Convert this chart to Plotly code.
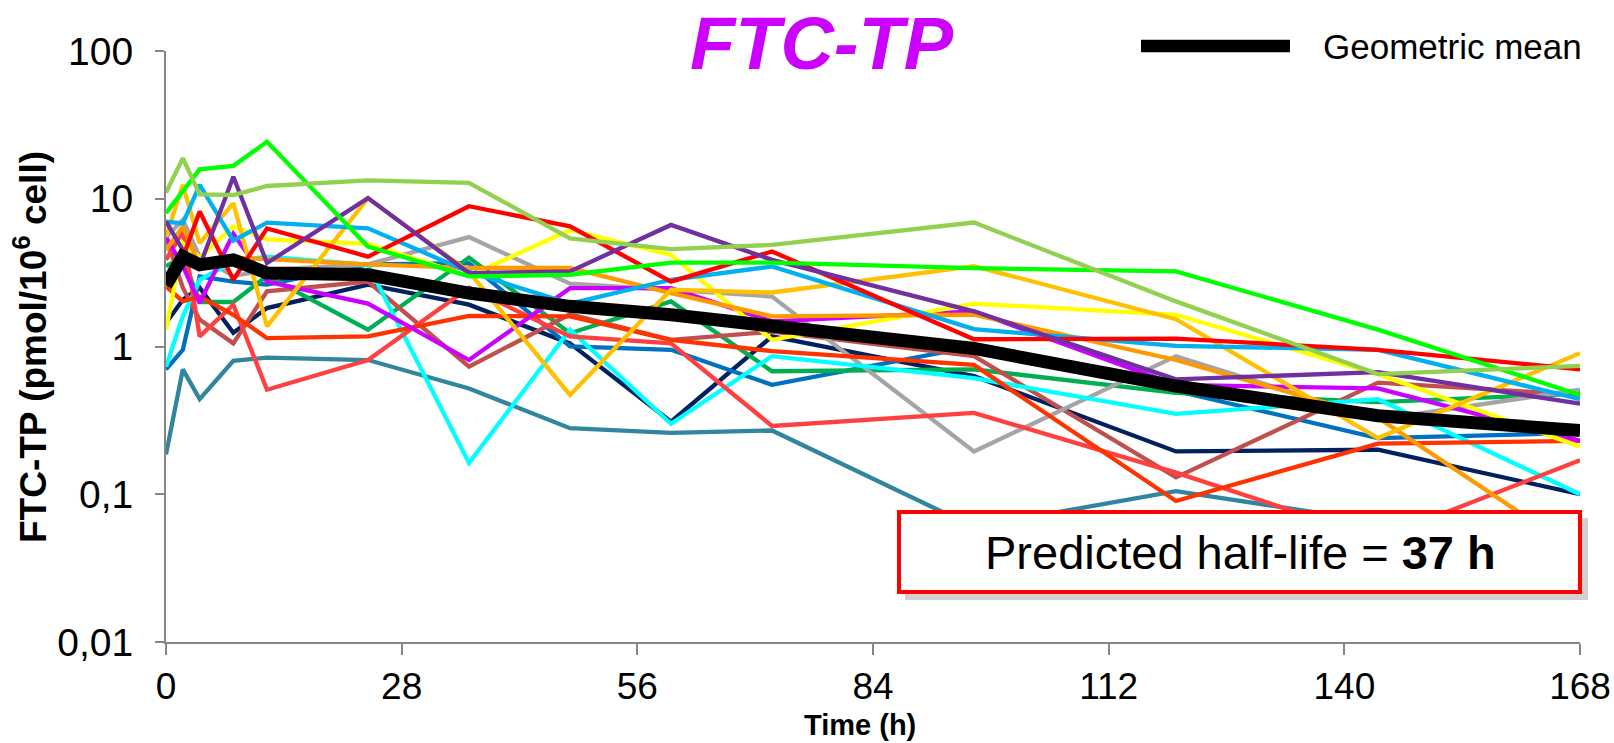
import plotly.graph_objects as go

# ---------------- data ----------------
time_h = [0, 2, 4, 8, 12, 24, 36, 48, 60, 72, 96, 120, 144, 168]

light_green = [11.0, 18.8, 10.7, 10.6, 12.2, 13.3, 12.8, 5.4, 4.56, 4.87, 6.9, 2.02, 0.65, 0.74]
lime = [8.0, 11.3, 15.8, 16.7, 24.3, 4.75, 2.98, 3.06, 3.7, 3.7, 3.39, 3.22, 1.3, 0.47]
purple = [7.0, 4.5, 3.5, 14.1, 3.67, 10.1, 3.14, 3.22, 6.65, 3.86, 1.73, 0.60, 0.67, 0.41]
gold = [5.5, 12.4, 5.0, 9.3, 1.37, 10.1, 3.2, 0.47, 2.42, 2.32, 3.5, 1.53, 0.24, 0.90]
orange = [4.5, 6.5, 3.5, 4.0, 3.9, 3.6, 3.4, 3.4, 2.3, 1.6, 1.64, 0.81, 0.33, 0.04]
red = [3.0, 4.0, 8.2, 2.83, 6.3, 4.06, 8.9, 6.5, 2.75, 4.4, 1.12, 1.13, 0.95, 0.70]
light_blue = [7.0, 6.8, 12.4, 5.2, 6.9, 6.3, 3.2, 1.95, 2.83, 3.48, 1.31, 1.01, 0.95, 0.44]
yellow = [1.3, 5.0, 4.0, 6.5, 5.3, 4.95, 3.0, 6.15, 4.17, 1.11, 1.95, 1.64, 0.65, 0.21]
gray = [5.5, 7.2, 4.06, 3.0, 3.3, 3.6, 5.5, 2.66, 2.42, 2.18, 0.195, 0.86, 0.32, 0.51]
violet = [5.5, 3.5, 1.97, 5.8, 2.75, 1.95, 0.81, 2.48, 2.48, 1.48, 1.73, 0.55, 0.52, 0.23]
cyan = [0.73, 1.6, 2.83, 3.76, 4.06, 3.57, 0.163, 1.3, 0.30, 0.86, 0.61, 0.35, 0.44, 0.10]
blue = [0.70, 0.95, 2.98, 2.75, 2.62, 3.6, 3.67, 1.0, 0.95, 0.55, 1.0, 0.5, 0.24, 0.26]
navy = [1.44, 2.07, 2.5, 1.24, 1.82, 2.62, 1.92, 1.05, 0.31, 1.17, 0.63, 0.195, 0.2, 0.10]
dark_green = [3.5, 4.0, 2.0, 2.0, 3.0, 1.3, 4.0, 1.23, 2.02, 0.68, 0.70, 0.485, 0.42, 0.48]
brown = [5.5, 2.5, 1.52, 1.05, 2.36, 2.75, 0.73, 1.65, 1.11, 1.26, 0.86, 0.13, 0.57, 0.47]
teal = [0.186, 0.70, 0.44, 0.80, 0.84, 0.81, 0.52, 0.28, 0.26, 0.27, 0.06, 0.105, 0.065, 0.05]
coral = [3.86, 6.0, 1.17, 1.92, 0.51, 0.81, 2.5, 1.17, 1.05, 0.29, 0.355, 0.14, 0.05, 0.17]
orange_red = [2.55, 2.02, 2.18, 1.64, 1.14, 1.17, 1.61, 1.6, 1.11, 0.93, 0.75, 0.09, 0.22, 0.23]
geo_mean = [2.6, 4.06, 3.57, 3.86, 3.14, 3.06, 2.3, 1.87, 1.64, 1.40, 0.97, 0.54, 0.34, 0.27]

subjects = [
    (teal, "#31859C"), (navy, "#002060"), (blue, "#0070C0"), (dark_green, "#00B050"),
    (brown, "#C0504D"), (gray, "#A5A5A5"), (cyan, "#00FFFF"), (coral, "#FF4040"),
    (orange_red, "#FF3300"), (violet, "#CC00FF"), (yellow, "#FFFF00"), (orange, "#FF9900"),
    (gold, "#FFC000"), (light_blue, "#00B0F0"), (red, "#FF0000"), (purple, "#7030A0"),
    (lime, "#00FF00"), (light_green, "#92D050"),
]

y_tick_vals = [0.01, 0.1, 1, 10, 100]
y_tick_text = ["0,01", "0,1", "1", "10", "100"]
x_tick_vals = [0, 28, 56, 84, 112, 140, 168]

# ---------------- layout geometry ----------------
W, H = 1614, 743
L, R, T, B = 166, 34, 51, 101
PW, PH = W - L - R, H - T - B


def px(x):
    return (x - L) / PW


def py(y):
    return (H - B - y) / PH


FONT = "Liberation Sans, Arial, sans-serif"

fig = go.Figure()
for vals, col in subjects:
    fig.add_trace(go.Scatter(x=time_h, y=vals, mode="lines",
                             line=dict(color=col, width=4.3), showlegend=False,
                             hoverinfo="skip"))
fig.add_trace(go.Scatter(x=time_h, y=geo_mean, mode="lines", name="Geometric mean",
                         line=dict(color="#000000", width=13), showlegend=False))

axis_col = "#868686"
fig.update_xaxes(range=[0, 168], tickvals=x_tick_vals, showline=True, linecolor=axis_col,
                 linewidth=2, ticks="outside", ticklen=11, tickwidth=2, tickcolor=axis_col,
                 showgrid=False, zeroline=False, automargin=False,
                 tickfont=dict(family=FONT, size=37, color="#000000"))
fig.update_yaxes(type="log", range=[-2, 2], tickvals=y_tick_vals, ticktext=y_tick_text,
                 showline=True, linecolor=axis_col, linewidth=2, ticks="outside",
                 ticklen=9, tickwidth=2, tickcolor=axis_col, showgrid=False,
                 zeroline=False, automargin=False, ticklabelstandoff=14,
                 tickfont=dict(family=FONT, size=39, color="#000000"))

shapes = [
    # box shadow
    dict(type="rect", xref="paper", yref="paper", x0=px(905), x1=px(1588),
         y0=py(600), y1=py(518), fillcolor="rgba(0,0,0,0.18)", line=dict(width=0),
         layer="above"),
    dict(type="rect", xref="paper", yref="paper", x0=px(899), x1=px(1580),
         y0=py(592), y1=py(512), fillcolor="#FFFFFF",
         line=dict(color="#FF0000", width=4), layer="above"),
    # legend sample
    dict(type="line", xref="paper", yref="paper", x0=px(1141), x1=px(1290),
         y0=py(46), y1=py(46), line=dict(color="#000000", width=12.5)),
]

annotations = [
    dict(text="<b><i>FTC-TP</i></b>", xref="paper", yref="paper", x=px(822), y=py(43),
         xanchor="center", yanchor="middle", showarrow=False,
         font=dict(family=FONT, size=74, color="#CC00FF")),
    dict(text="Geometric mean", xref="paper", yref="paper", x=px(1321), y=py(47),
         xanchor="left", yanchor="middle", showarrow=False,
         font=dict(family=FONT, size=35, color="#000000")),
    dict(text="Predicted half-life = <b>37 h</b>", xref="paper", yref="paper",
         x=px(1240), y=py(552), xanchor="center", yanchor="middle", showarrow=False,
         font=dict(family=FONT, size=47, color="#000000")),
    dict(text="<b>Time (h)</b>", xref="paper", yref="paper", x=px(860), y=py(725),
         xanchor="center", yanchor="middle", showarrow=False,
         font=dict(family=FONT, size=29, color="#000000")),
    dict(text="<b>FTC-TP (pmol/10<sup>6</sup> cell)</b>", xref="paper", yref="paper",
         x=px(30), y=py(347), xanchor="center", yanchor="middle", textangle=-90,
         showarrow=False, font=dict(family=FONT, size=37, color="#000000")),
]

fig.update_layout(width=W, height=H, margin=dict(l=L, r=R, t=T, b=B),
                  paper_bgcolor="#FFFFFF", plot_bgcolor="#FFFFFF",
                  shapes=shapes, annotations=annotations, showlegend=False)

fig.write_html("out.html")
